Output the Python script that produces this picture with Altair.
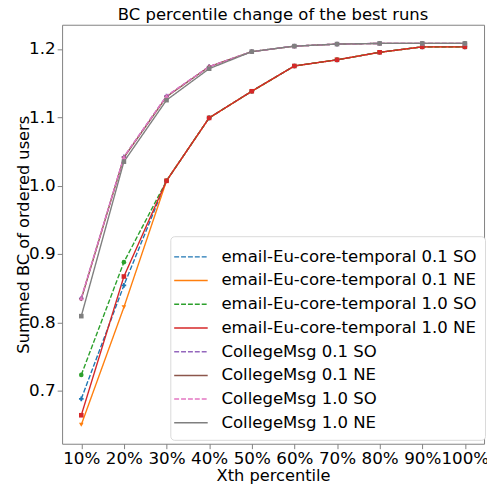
import altair as alt
import pandas as pd

percentiles = [10, 20, 30, 40, 50, 60, 70, 80, 90, 100]

series = [
    "email-Eu-core-temporal 0.1 SO",
    "email-Eu-core-temporal 0.1 NE",
    "email-Eu-core-temporal 1.0 SO",
    "email-Eu-core-temporal 1.0 NE",
    "CollegeMsg 0.1 SO",
    "CollegeMsg 0.1 NE",
    "CollegeMsg 1.0 SO",
    "CollegeMsg 1.0 NE",
]

email_01_so = [0.688, 0.854, 1.007, 1.099, 1.138, 1.175, 1.184, 1.195, 1.203, 1.203]
email_01_ne = [0.650, 0.822, 1.007, 1.099, 1.138, 1.175, 1.184, 1.195, 1.203, 1.203]
email_10_so = [0.723, 0.888, 1.007, 1.099, 1.138, 1.175, 1.184, 1.195, 1.203, 1.203]
email_10_ne = [0.664, 0.867, 1.007, 1.099, 1.138, 1.175, 1.184, 1.195, 1.203, 1.203]
college_01_so = [0.835, 1.042, 1.131, 1.174, 1.196, 1.204, 1.207, 1.208, 1.208, 1.208]
college_01_ne = [0.834, 1.041, 1.130, 1.174, 1.196, 1.204, 1.207, 1.208, 1.208, 1.208]
college_10_so = [0.835, 1.042, 1.131, 1.174, 1.196, 1.204, 1.207, 1.208, 1.208, 1.208]
college_10_ne = [0.809, 1.035, 1.125, 1.171, 1.196, 1.204, 1.207, 1.208, 1.208, 1.208]

all_values = [email_01_so, email_01_ne, email_10_so, email_10_ne,
              college_01_so, college_01_ne, college_10_so, college_10_ne]

colors = ["#1f77b4", "#ff7f0e", "#2ca02c", "#d62728",
          "#9467bd", "#8c564b", "#e377c2", "#7f7f7f"]
dashes = [[5, 2], [1, 0], [5, 2], [1, 0], [5, 2], [1, 0], [5, 2], [1, 0]]
shapes = ["cross", "triangle-down", "circle", "square",
          "cross", "diamond", "triangle-up", "square"]

y_ticks = [0.7, 0.8, 0.9, 1.0, 1.1, 1.2]

rows = []
for name, vals in zip(series, all_values):
    for p, v in zip(percentiles, vals):
        rows.append({"series": name, "pct": p, "val": v})
df = pd.DataFrame(rows)

FONT = "DejaVu Sans"

x_enc = alt.X("pct:Q",
              scale=alt.Scale(domain=[5.5, 104.5], nice=False, zero=False),
              axis=alt.Axis(values=percentiles, labelExpr="datum.value + '%'",
                            title="Xth percentile", grid=False,
                            titleY=37, titleBaseline="alphabetic"))
y_enc = alt.Y("val:Q",
              scale=alt.Scale(domain=[0.6223, 1.2353], nice=False, zero=False),
              axis=alt.Axis(values=y_ticks, format=".1f",
                            title="Summed BC of ordered users", grid=False,
                            titleX=-34, titleY=213, titleAngle=270,
                            titleAlign="center", titleBaseline="alphabetic"))

legend = alt.Legend(
    title=None, orient="none", legendX=110, legendY=215,
    symbolType="M-1.42,0H1.42", symbolSize=576, symbolStrokeWidth=1.5,
    labelFontSize=16.8, labelFont=FONT, labelColor="#000000",
    labelOffset=18, rowPadding=2.1, padding=8,
    fillColor="#ffffff", strokeColor="#d9d9d9", cornerRadius=4,
    labelLimit=400,
)

lines = alt.Chart(df).mark_line(strokeWidth=1.4).encode(
    x=x_enc, y=y_enc,
    color=alt.Color("series:N", scale=alt.Scale(domain=series, range=colors),
                    legend=legend, sort=series),
    strokeDash=alt.StrokeDash("series:N", scale=alt.Scale(domain=series, range=dashes),
                              legend=legend, sort=series),
    order=alt.Order("pct:Q"),
)

point_layers = []
for name, col, shp in zip(series, colors, shapes):
    point_layers.append(
        alt.Chart(df).transform_filter(alt.datum.series == name)
        .mark_point(filled=True, size=22, opacity=1, shape=shp, color=col)
        .encode(x=x_enc, y=y_enc)
    )

chart = alt.layer(lines, *point_layers).properties(
    width=429, height=426,
    title=alt.TitleParams("BC percentile change of the best runs",
                          font=FONT, fontSize=16.7, fontWeight="normal",
                          color="#000000", baseline="alphabetic", offset=1.5,
                          anchor="middle", dy=13),
    autosize=alt.AutoSizeParams(type="none"),
    padding={"left": 55, "top": 13, "right": 3, "bottom": 44},
).configure_view(
    stroke="#808080", strokeWidth=1
).configure_axis(
    labelFont=FONT, labelFontSize=17, labelColor="#000000",
    titleFont=FONT, titleFontSize=16.5, titleColor="#000000", titleFontWeight="normal",
    domain=False, tickColor="#808080", tickSize=5, labelPadding=2,
)

chart.save("out.html", embed_options={"renderer": "svg", "actions": False})
